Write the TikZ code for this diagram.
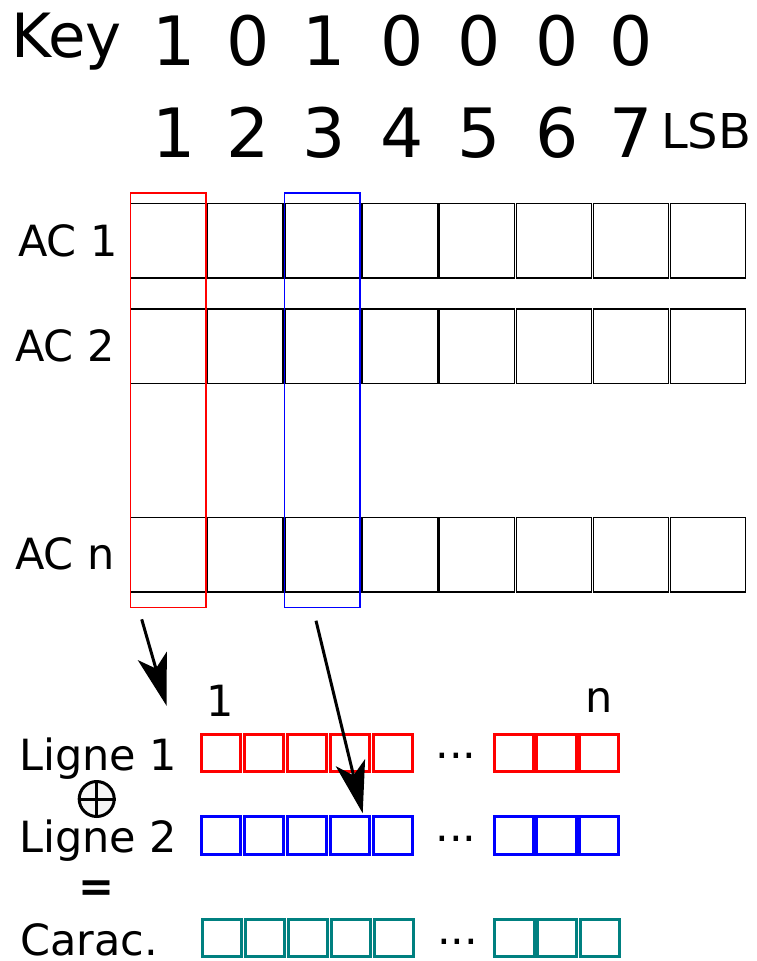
\documentclass[tikz,border=0pt]{standalone}
\usepackage{fontspec}
\setmainfont{DejaVu Sans}
\usetikzlibrary{arrows.meta}
\definecolor{tealc}{RGB}{0,128,128}
\begin{document}
\begin{tikzpicture}[x=1pt,y=-1pt,
  txt/.style={inner sep=0pt, anchor=base west, font=\fontsize{43}{43}\selectfont},
  lbl/.style={inner sep=0pt, anchor=base, font=\fontsize{43}{43}\selectfont},
  big/.style={inner sep=0pt, anchor=base, font=\fontsize{68}{68}\selectfont},
  cell/.style={draw=black, line width=1.3pt, minimum width=75.3pt, minimum height=74.7pt, inner sep=0pt},
  colbox/.style={line width=1.3pt, minimum width=75.4pt, minimum height=414.7pt, inner sep=0pt, draw},
  bit/.style={line width=3pt, minimum width=39.3pt, minimum height=37.6pt, inner sep=0pt, draw},
  arr/.style={line width=3pt, -{Stealth[length=52pt,width=30pt,inset=13pt]}}
]
\useasboundingbox (0,0) rectangle (756,961);
\fill[white] (0,0) rectangle (756,961);

% header
\node[inner sep=0pt, anchor=base west, font=\fontsize{61}{61}\selectfont] (key) at (11,57) {Key};
\foreach \d/\x [count=\i] in {1/174,0/248,1/324,0/402.5,0/479.5,0/557.5,0/631}
  \node[big] (k\i) at (\x,65) {\d};
\foreach \x [count=\i] in {174,248,324,402.5,479.5,557.5,631}
  \node[big] (p\i) at (\x,157) {\i};
\node[inner sep=0pt, anchor=base west, font=\fontsize{48}{48}\selectfont] (lsb) at (661,148) {LSB};

% grid of AC rows
\foreach \r/\y in {1/240.7,2/346.3,n/554.7}
  \foreach \i in {1,...,8}
    \node[cell] (ac\r c\i) at ({130+38.3+77.1*(\i-1)},\y) {};
\node[txt] (lac1) at (18,256) {AC 1};
\node[txt] (lac2) at (15,361.7) {AC 2};
\node[txt] (lacn) at (15,569) {AC n};

% highlighted columns
\node[colbox, draw=red] (redcol) at (168.3,400.3) {};
\node[colbox, draw=blue] (bluecol) at (322.3,400.3) {};

% bottom rows
\foreach \i in {1,...,5} {
  \node[bit, draw=red] (l1b\i) at ({221.2+43*(\i-1)},753) {};
  \node[bit, draw=blue] (l2b\i) at ({221.2+43*(\i-1)},835.3) {};
  \node[bit, draw=tealc] (cb\i) at ({221.9+43*(\i-1)},937.8) {};
}
\foreach \i in {1,2,3} {
  \node[bit, draw=red] (l1e\i) at ({513.9+42.7*(\i-1)},753) {};
  \node[bit, draw=blue] (l2e\i) at ({513.9+42.7*(\i-1)},835.3) {};
  \node[bit, draw=tealc] (ce\i) at ({514.6+42.7*(\i-1)},937.8) {};
}
\node[lbl] (d1) at (456,758) {...};
\node[lbl] (d2) at (456,841) {...};
\node[lbl] (d3) at (457.5,944) {...};

\node[lbl] (one) at (220.5,716) {1};
\node[lbl] (en) at (599,712) {n};

\node[txt] (lig1) at (19,770.7) {Ligne 1};
\node[txt] (lig2) at (19,852.7) {Ligne 2};
\node[txt] (carac) at (20,955) {Carac.};

% xor symbol
\node[circle, draw=black, fill=black!4, line width=3pt, minimum size=35pt, inner sep=0pt] (xor) at (96.7,799) {};
\draw[line width=3pt] (xor.north) -- (xor.south) (xor.west) -- (xor.east);
\node[lbl, font=\bfseries\fontsize{43}{43}\selectfont] (eq) at (96.2,901) {=};

% arrows
\coordinate (a1s) at (141.7,619.3);
\coordinate (a1e) at (166.7,706);
\coordinate (a2s) at (316,620.7);
\coordinate (a2e) at (362.7,813.3);
\draw[arr] (a1s) -- (a1e);
\draw[arr] (a2s) -- (a2e);
\end{tikzpicture}
\end{document}
